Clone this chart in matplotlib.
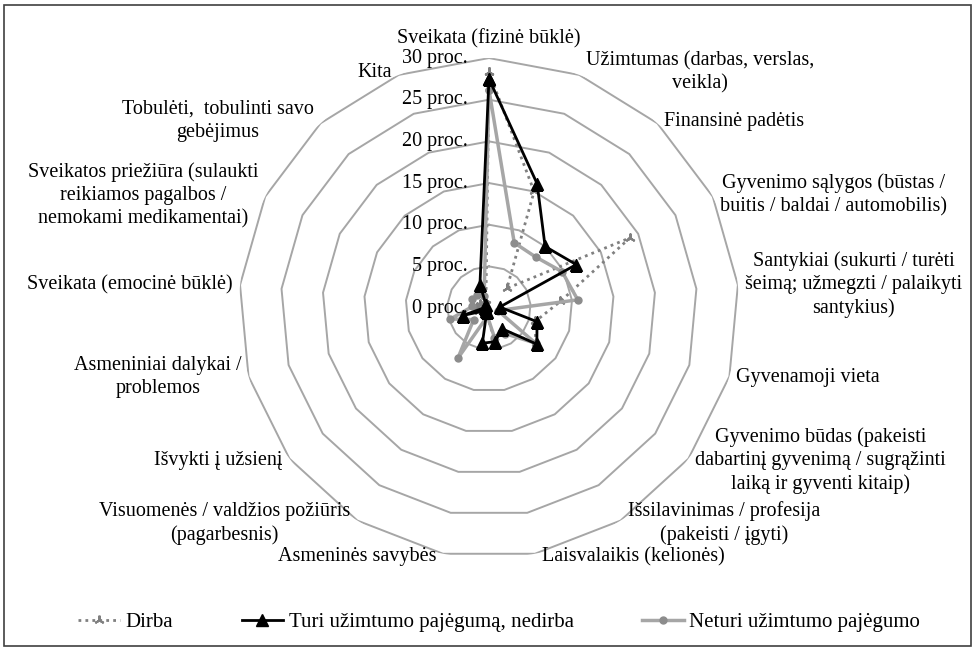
import numpy as np
import matplotlib.pyplot as plt
from matplotlib.patches import Rectangle

plt.rcParams['font.family'] = ['Liberation Serif', 'DejaVu Serif']

categories = [
    "Sveikata (fizinė būklė)",
    "Užimtumas (darbas, verslas,\nveikla)",
    "Finansinė padėtis",
    "Gyvenimo sąlygos (būstas /\nbuitis / baldai / automobilis)",
    "Santykiai (sukurti / turėti\nšeimą; užmegzti / palaikyti\nsantykius)",
    "Gyvenamoji vieta",
    "Gyvenimo būdas (pakeisti\ndabartinį gyvenimą / sugrąžinti\nlaiką ir gyventi kitaip)",
    "Išsilavinimas / profesija\n(pakeisti / įgyti)",
    "Laisvalaikis (kelionės)",
    "Asmeninės savybės",
    "Visuomenės / valdžios požiūris\n(pagarbesnis)",
    "Išvykti į užsienį",
    "Asmeniniai dalykai /\nproblemos",
    "Sveikata (emocinė būklė)",
    "Sveikatos priežiūra (sulaukti\nreikiamos pagalbos /\nnemokami medikamentai)",
    "Tobulėti,  tobulinti savo\ngebėjimus",
    "Kita",
]

dirba = [28.3, 15.0, 3.2, 18.9, 8.6, 5.8, 7.0, 3.0, 4.5, 1.0, 0.5, 0.7, 1.2, 1.5, 1.2, 0.8, 1.0]
turi = [27.5, 16.0, 10.0, 11.7, 1.3, 6.0, 7.2, 2.9, 4.1, 4.3, 0.5, 0.5, 3.3, 0.5, 0.5, 0.5, 3.0]
neturi = [26.2, 8.4, 8.3, 9.8, 10.7, 1.1, 7.0, 3.6, 3.6, 1.0, 7.1, 2.3, 4.8, 2.0, 2.3, 2.1, 1.6]

ticks = [0, 5, 10, 15, 20, 25, 30]
tick_labels = ["{} proc.".format(t) for t in ticks]

n = len(categories)
angles = np.linspace(0, 2 * np.pi, n, endpoint=False)
closed = np.append(angles, angles[0])


def close(vals):
    return np.append(vals, vals[0])


fig = plt.figure(figsize=(9.75, 6.5), dpi=100)
ax = fig.add_axes([0.2451, 0.1415, 0.5128, 0.7692], projection='polar')
ax.set_theta_offset(np.pi / 2)
ax.set_theta_direction(-1)
ax.set_ylim(0, 30)
ax.set_axis_off()

# polygon grid
for t in ticks[1:]:
    ax.plot(closed, [t] * (n + 1), color='#a6a6a6', lw=1.4, zorder=1)

l1, = ax.plot(closed, close(dirba), color='#808080', lw=2, ls=(0, (1, 1.5)),
              marker=(3, 2, 0), ms=7, mew=1.5, mec='#808080', zorder=3,
              label='Dirba')
l3, = ax.plot(closed, close(neturi), color='#a6a6a6', lw=2.5, marker='o', ms=5,
              mfc='#8c8c8c', mec='#8c8c8c', zorder=4,
              label='Neturi užimtumo pajėgumo')
l2, = ax.plot(closed, close(turi), color='black', lw=2, marker='^', ms=8,
              zorder=5, label='Turi užimtumo pajėgumą, nedirba')

fs = 14.5
for t, lab in zip(ticks, tick_labels):
    ax.annotate(lab, (0, t), xytext=(-21, 0), textcoords='offset pixels',
                ha='right', va='center', fontsize=fs, zorder=6)

for a, lab in zip(angles, categories):
    s = np.sin(a)
    if abs(s) < 0.1:
        ha, va, off = 'center', 'bottom', (0, 10)
    elif s > 0:
        ha, va, off = 'left', 'center', (7, 3 * np.cos(a))
    else:
        ha, va, off = 'right', 'center', (-7, 3 * np.cos(a))
    ax.annotate(lab, (a, 30), xytext=off, textcoords='offset pixels',
                ha=ha, va=va, multialignment='center', fontsize=fs,
                linespacing=1.3, annotation_clip=False)

fig.legend(handles=[l1, l2, l3], loc='center', bbox_to_anchor=(0.512, 0.043),
           ncol=3, frameon=False, fontsize=15, handlelength=2.0,
           columnspacing=3.3, handletextpad=0.25)

fig.patches.append(Rectangle((0.004, 0.006), 0.992, 0.986, transform=fig.transFigure,
                             fill=False, edgecolor='#404040', lw=1.2))

fig.savefig('out.png', dpi=100)
